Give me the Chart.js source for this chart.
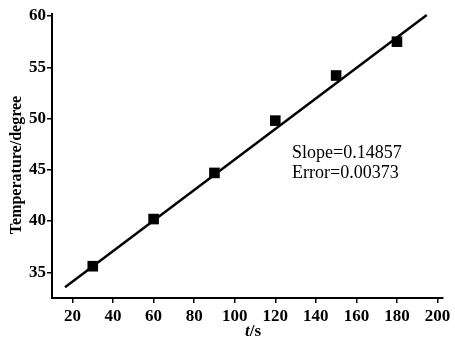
<!DOCTYPE html>
<html>
<head>
<meta charset="utf-8">
<script src="https://cdn.jsdelivr.net/npm/chart.js@4"></script>
<style>
  html, body { margin: 0; padding: 0; background: #fff; }
  #wrap { width: 455px; height: 343px; }
</style>
</head>
<body>
<div id="wrap"><canvas id="myChart"></canvas></div>
<script>
// measured points
const timeS = [30, 60, 90, 120, 150, 180];
const tempDeg = [35.6, 40.2, 44.7, 49.8, 54.2, 57.5];

// fitted line ends
const fitX = [16.3, 194.7];
const fitY = [33.55, 60.1];

const xTicks = [20, 40, 60, 80, 100, 120, 140, 160, 180, 200];
const yTicks = [35, 40, 45, 50, 55, 60];

const noteLines = ['Slope=0.14857', 'Error=0.00373'];

const serif = "'Liberation Serif', 'Times New Roman', serif";

const textPlugin = {
  id: 'texts',
  afterDraw(chart) {
    const c = chart.ctx;
    c.save();
    c.fillStyle = '#000';
    // y title
    c.translate(17, 165);
    c.rotate(-Math.PI / 2);
    c.font = 'bold 16px ' + serif;
    c.textAlign = 'center';
    c.textBaseline = 'middle';
    c.fillText('Temperature/degree', 0, 0);
    c.restore();

    // x title with italic t
    c.save();
    c.fillStyle = '#000';
    c.textBaseline = 'alphabetic';
    c.font = 'italic bold 17px ' + serif;
    const tw = c.measureText('t').width;
    c.font = 'bold 17px ' + serif;
    const sw = c.measureText('/s').width;
    let x0 = 253 - (tw + sw) / 2;
    c.font = 'italic bold 17px ' + serif;
    c.fillText('t', x0, 336);
    c.font = 'bold 17px ' + serif;
    c.fillText('/s', x0 + tw, 336);

    // slope note
    c.font = '18px ' + serif;
    c.textAlign = 'left';
    c.fillText(noteLines[0], 292, 158);
    c.fillText(noteLines[1], 292, 178);
    c.restore();
  }
};

const ctx = document.getElementById('myChart');

new Chart(ctx, {
  type: 'scatter',
  data: {
    datasets: [
      {
        label: 'fit',
        data: fitX.map((x, i) => ({ x: x, y: fitY[i] })),
        showLine: true,
        borderColor: '#000',
        borderWidth: 2.5,
        pointRadius: 0
      },
      {
        label: 'data',
        data: timeS.map((x, i) => ({ x: x, y: tempDeg[i] })),
        pointStyle: 'rect',
        pointRadius: 7.5,
        backgroundColor: '#000',
        borderColor: '#000',
        borderWidth: 0
      }
    ]
  },
  options: {
    responsive: true,
    maintainAspectRatio: false,
    animation: false,
    layout: { padding: { top: 14, right: 12, left: 0, bottom: 0 } },
    plugins: {
      legend: { display: false },
      tooltip: { enabled: false }
    },
    scales: {
      x: {
        type: 'linear',
        min: 9.9,
        max: 202.7,
        afterBuildTicks: (s) => { s.ticks = xTicks.map(v => ({ value: v })); },
        afterFit: (s) => { s.height = 45; },
        border: { display: true, color: '#000', width: 2 },
        grid: { display: true, drawOnChartArea: false, drawTicks: true, tickLength: 5, color: '#000', lineWidth: 1.5 },
        ticks: { color: '#000', padding: 3, font: { family: serif, size: 17, weight: 'bold' } }
      },
      y: {
        min: 32.5,
        max: 60.2,
        afterBuildTicks: (s) => { s.ticks = yTicks.map(v => ({ value: v })); },
        afterFit: (s) => { s.width = 52; },
        border: { display: true, color: '#000', width: 2 },
        grid: { display: true, drawOnChartArea: false, drawTicks: true, tickLength: 5, color: '#000', lineWidth: 1.5 },
        ticks: { color: '#000', padding: 1, font: { family: serif, size: 17, weight: 'bold' } }
      }
    }
  },
  plugins: [textPlugin]
});
</script>
</body>
</html>
